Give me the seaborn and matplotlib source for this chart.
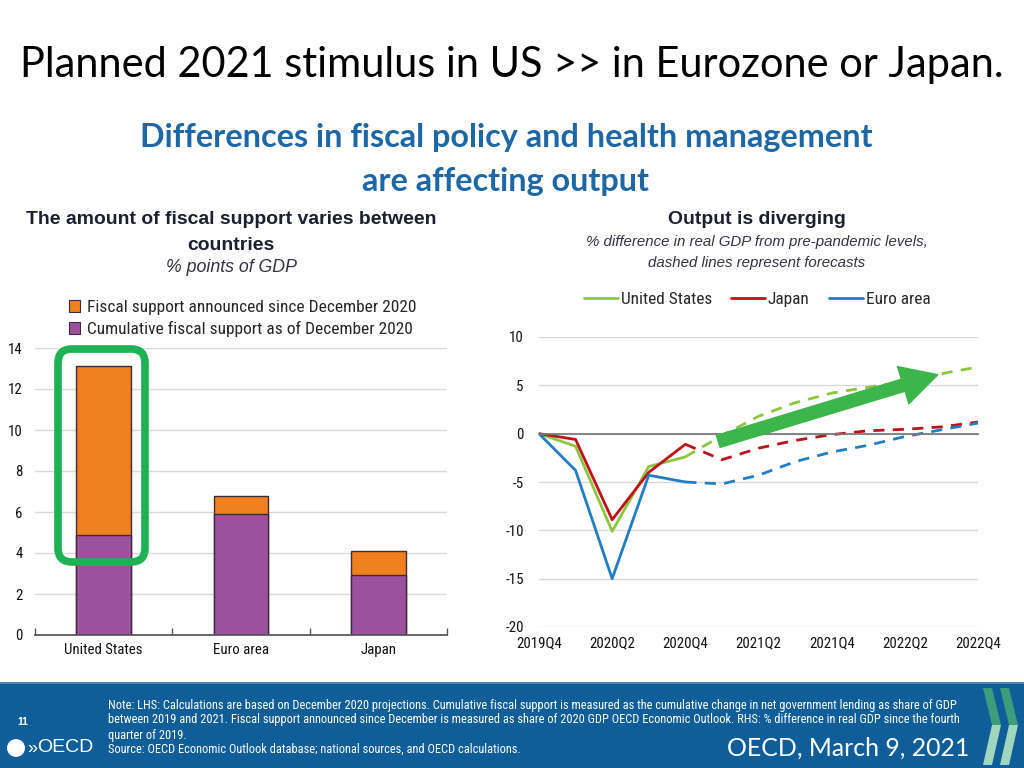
import numpy as np
import matplotlib
matplotlib.use("Agg")
import matplotlib.pyplot as plt
import pandas as pd
import seaborn as sns
from matplotlib.patches import FancyBboxPatch, Polygon, Circle, Rectangle
from matplotlib.lines import Line2D

# left panel data (% points of GDP)
countries = ["United States", "Euro area", "Japan"]
cumulative_dec2020 = [4.9, 5.9, 2.95]
announced_since_dec = [8.2, 0.9, 1.15]

# right panel data (% diff in real GDP vs 2019Q4)
quarters = ["2019Q4", "2020Q1", "2020Q2", "2020Q3", "2020Q4", "2021Q1", "2021Q2",
            "2021Q3", "2021Q4", "2022Q1", "2022Q2", "2022Q3", "2022Q4"]
us_gdp = [0, -1.3, -10.1, -3.4, -2.4, -0.2, 1.8, 3.2, 4.2, 4.8, 5.4, 6.2, 6.9]
jp_gdp = [0, -0.6, -8.9, -4.0, -1.1, -2.7, -1.5, -0.7, -0.1, 0.3, 0.45, 0.7, 1.2]
ea_gdp = [0, -3.8, -15.0, -4.3, -5.0, -5.2, -4.3, -2.9, -1.9, -1.2, -0.3, 0.4, 1.1]
last_actual = 4

ORANGE = "#f07f1e"
PURPLE = "#9c519f"
GREEN = "#8cc63f"
RED = "#c0101a"
BLUE = "#1f7ec4"
DARK = "#1b1f2e"
COND = ["Roboto Condensed", "Liberation Sans Narrow", "Liberation Sans", "DejaVu Sans"]
ARIAL = ["Liberation Sans", "DejaVu Sans"]

sns.set_theme(style="white")
plt.rcParams["font.family"] = COND
plt.rcParams["axes.unicode_minus"] = False

fig = plt.figure(figsize=(10.24, 7.68), dpi=100)
W, H = 1024, 768


def fx(x):
    return x / W


def fy(y):
    return 1 - y / H


def fit(t, px):
    r = fig.canvas.get_renderer()
    w = t.get_window_extent(r).width
    t.set_fontsize(t.get_fontsize() * px / w)
    return t.get_fontsize()


def size_for(s, px, family=COND, weight="normal"):
    t = fig.text(0, 0, s, fontsize=10, family=family, fontweight=weight)
    w = t.get_window_extent(fig.canvas.get_renderer()).width
    t.remove()
    return 10 * px / w


# slide headings
t = fig.text(fx(20), fy(65), "Planned 2021 stimulus in US >> in Eurozone or Japan.",
             family=["Lato", "DejaVu Sans"], fontsize=30, color="black", va="center")
fit(t, 983)
t = fig.text(fx(506), fy(138), "Differences in fiscal policy and health management",
             family=["Lato", "DejaVu Sans"], fontweight="bold", fontsize=22,
             color="#1d67a6", ha="center", va="center")
s = fit(t, 732)
fig.text(fx(506), fy(181), "are affecting output", family=["Lato", "DejaVu Sans"],
         fontweight="bold", fontsize=s, color="#1d67a6", ha="center", va="center")

t = fig.text(fx(231), fy(219), "The amount of fiscal support varies between", family=ARIAL,
             fontweight="bold", fontsize=14, color=DARK, ha="center", va="center")
s = fit(t, 412)
fig.text(fx(231), fy(245), "countries", family=ARIAL, fontweight="bold", fontsize=s,
         color=DARK, ha="center", va="center")
t = fig.text(fx(231), fy(268), "% points of GDP", family=ARIAL, style="italic",
             fontsize=11, color="#333340", ha="center", va="center")
fit(t, 131)

t = fig.text(fx(757), fy(219), "Output is diverging", family=ARIAL, fontweight="bold",
             fontsize=14, color=DARK, ha="center", va="center")
fit(t, 178)
t = fig.text(fx(757), fy(242), "% difference in real GDP from pre-pandemic levels,",
             family=ARIAL, style="italic", fontsize=11, color="#333340", ha="center", va="center")
s = fit(t, 343)
fig.text(fx(757), fy(263), "dashed lines represent forecasts", family=ARIAL, style="italic",
         fontsize=s, color="#333340", ha="center", va="center")

tick_fs = size_for("United States", 78)
leg_fs = size_for("Fiscal support announced since December 2020", 326)
line_leg_fs = size_for("United States", 90)

# left: stacked bars
ax1 = fig.add_axes([fx(35), fy(635), 412 / W, 287 / H])
total = [a + b for a, b in zip(cumulative_dec2020, announced_since_dec)]
bars = pd.DataFrame({"country": countries, "cum": cumulative_dec2020, "total": total})
sns.barplot(data=bars, x="country", y="total", color=ORANGE, width=0.4,
            edgecolor="#3b2b3b", linewidth=1, saturation=1, ax=ax1)
sns.barplot(data=bars, x="country", y="cum", color=PURPLE, width=0.4,
            edgecolor="#3b2b3b", linewidth=1, saturation=1, ax=ax1)
ax1.set_xlim(-0.5, 2.5)
ax1.set_ylim(0, 14)
ax1.set_yticks(range(0, 15, 2))
ax1.yaxis.grid(True, color="#d9d9d9", linewidth=1)
ax1.set_axisbelow(True)
ax1.set_xlabel("")
ax1.set_ylabel("")
for sp in ["top", "right", "left"]:
    ax1.spines[sp].set_visible(False)
ax1.spines["bottom"].set_color("#555555")
ax1.set_xticks([-0.5, 0.5, 1.5, 2.5], minor=True)
ax1.tick_params(axis="x", which="minor", direction="in", length=5, color="#555555", bottom=True)
ax1.tick_params(axis="x", which="major", length=0, pad=6, labelsize=tick_fs, labelcolor="#111111")
ax1.tick_params(axis="y", length=0, pad=9, labelsize=tick_fs, labelcolor="#111111")

leg_handles = [Rectangle((0, 0), 1, 1, facecolor=ORANGE, edgecolor="#3b2b3b", linewidth=0.8),
               Rectangle((0, 0), 1, 1, facecolor=PURPLE, edgecolor="#3b2b3b", linewidth=0.8)]
ax1.legend(leg_handles, ["Fiscal support announced since December 2020",
                         "Cumulative fiscal support as of December 2020"],
           loc="upper left", bbox_to_anchor=(fx(69), fy(300)), bbox_transform=fig.transFigure,
           frameon=False, fontsize=leg_fs, handlelength=0.65, handleheight=0.65,
           handletextpad=0.4, labelspacing=0.35, borderpad=0, borderaxespad=0)

# green highlight box round US bar
fig.patches.append(FancyBboxPatch((0.58, (H - 562) / 100), 0.87, 2.13,
                                  boxstyle="round,pad=0,rounding_size=0.14",
                                  transform=fig.dpi_scale_trans, fill=False,
                                  edgecolor="#1fb254", linewidth=5.5, zorder=5))

# right: GDP lines
ax2 = fig.add_axes([fx(539), fy(627), 439 / W, 290 / H])
xs = np.arange(len(quarters))
series = [("United States", us_gdp, GREEN), ("Japan", jp_gdp, RED), ("Euro area", ea_gdp, BLUE)]
for name, vals, col in series:
    sns.lineplot(x=xs[:last_actual + 1], y=vals[:last_actual + 1], color=col,
                 linewidth=2, ax=ax2)
    sns.lineplot(x=xs[last_actual:], y=vals[last_actual:], color=col, linewidth=2,
                 linestyle=(0, (4, 3)), ax=ax2)
ax2.set_xlim(0, 12)
ax2.set_ylim(-20, 10)
ax2.set_yticks(range(-20, 11, 5))
ax2.yaxis.grid(True, color="#d9d9d9", linewidth=1)
ax2.set_axisbelow(True)
for sp in ["top", "right", "left"]:
    ax2.spines[sp].set_visible(False)
ax2.spines["bottom"].set_position(("data", 0))
ax2.spines["bottom"].set_color("#777777")
ax2.set_xticks(np.arange(0, 12.5, 0.5))
ax2.tick_params(axis="x", direction="in", length=4, color="#777777", labelbottom=False)
ax2.tick_params(axis="y", length=0, pad=11, labelsize=tick_fs, labelcolor="#111111")
sec = ax2.secondary_xaxis("bottom")
sec.set_xticks(xs[::2], labels=quarters[::2])
sec.tick_params(length=0, pad=7, labelsize=tick_fs, labelcolor="#111111")
sec.spines["bottom"].set_visible(False)

ax2.annotate("", xy=(10.9, 6.1), xytext=(4.9, -0.8),
             arrowprops=dict(arrowstyle="simple,head_length=1.3,head_width=1.4,tail_width=0.45",
                             mutation_scale=20, color="#3cb64b", shrinkA=0, shrinkB=0),
             zorder=6)

line_handles = [Line2D([], [], color=c, linewidth=2) for _, _, c in series]
ax2.legend(line_handles, [n for n, _, _ in series], loc="center",
           bbox_to_anchor=(fx(757), fy(299)), bbox_transform=fig.transFigure, ncol=3,
           frameon=False, fontsize=line_leg_fs, handlelength=2.0, handletextpad=0.15,
           columnspacing=1.1, borderpad=0)

# footer band
fig.patches.append(Rectangle((0, 0), 1, fy(683), transform=fig.transFigure,
                             facecolor="#0f5d99", edgecolor="none", zorder=0))
fig.patches.append(Rectangle((0, fy(684)), 1, 0.002, transform=fig.transFigure,
                             facecolor="#4a86b8", edgecolor="none", zorder=0))
notes = ["Note: LHS: Calculations are based on December 2020 projections. Cumulative fiscal support is measured as the cumulative change in net government lending as share of GDP",
         "between 2019 and 2021. Fiscal support announced since December is measured as share of 2020 GDP OECD Economic Outlook. RHS: % difference in real GDP since the fourth",
         "quarter of 2019.",
         "Source: OECD Economic Outlook database; national sources, and OECD calculations."]
t = fig.text(fx(108), fy(720), notes[1], fontsize=8, color="white", va="center")
s = fit(t, 854)
for yy, line in zip([705, 735, 749], [notes[0], notes[2], notes[3]]):
    fig.text(fx(108), fy(yy), line, fontsize=s, color="white", va="center")

fig.text(fx(17), fy(722), "11", family=ARIAL, fontweight="bold", fontsize=7.5,
         color="white", va="center")
fig.patches.append(Circle((0.16, (H - 748) / 100), 0.09, transform=fig.dpi_scale_trans,
                          facecolor="white", edgecolor="none", zorder=1))
fig.text(fx(27), fy(748), "»", family=ARIAL, fontsize=13, color="white", va="center")
fig.text(fx(37), fy(748), "OECD", family=ARIAL, fontsize=14, color="white", va="center")

t = fig.text(fx(727), fy(748), "OECD, March 9, 2021", family=["Lato", "DejaVu Sans"],
             fontsize=20, color="white", va="center")
fit(t, 243)

# chevrons
for dx in [0, 17]:
    top = [(983 + dx, 688), (992 + dx, 688), (1001 + dx, 725), (992 + dx, 725)]
    bot = [(992 + dx, 725), (1001 + dx, 725), (992 + dx, 765), (983 + dx, 765)]
    for pts, col in [(top, "#3d9c7c"), (bot, "#9fd6bd")]:
        fig.patches.append(Polygon([(x / 100, (H - y) / 100) for x, y in pts], closed=True,
                                   transform=fig.dpi_scale_trans, facecolor=col,
                                   edgecolor="none", zorder=1))

fig.savefig("out.png", dpi=100)
